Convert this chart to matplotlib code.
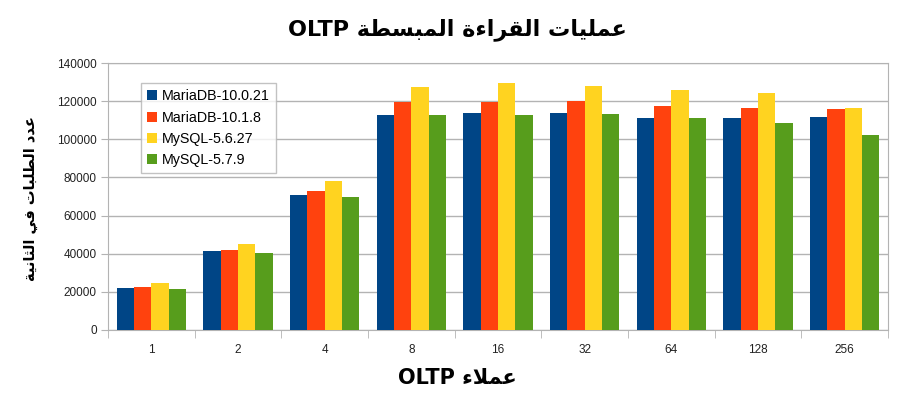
import numpy as np
import matplotlib
matplotlib.use("Agg")
import matplotlib.pyplot as plt

# data
clients = ["1", "2", "4", "8", "16", "32", "64", "128", "256"]
series_names = ["MariaDB-10.0.21", "MariaDB-10.1.8", "MySQL-5.6.27", "MySQL-5.7.9"]
mariadb_10021 = [22100, 41200, 70900, 112500, 114000, 113800, 111400, 111400, 111600]
mariadb_1018 = [22800, 42100, 73000, 119300, 119800, 120000, 117500, 116300, 115900]
mysql_5627 = [24400, 45300, 78100, 127200, 129300, 128000, 125800, 124400, 116600]
mysql_579 = [21400, 40500, 70000, 112600, 112600, 113100, 110900, 108800, 102400]
colors = ["#004586", "#ff420e", "#ffd320", "#579d1c"]

title_text = "عمليات القراءة المبسطة OLTP"
ylabel_text = "عدد الطلبات في الثانية"
xlabel_text = "عملاء OLTP"

# arabic presentation forms: isolated, final, initial, medial
FORMS = {
    'ا': (0xFE8D, 0xFE8E, None, None),
    'ب': (0xFE8F, 0xFE90, 0xFE91, 0xFE92),
    'ة': (0xFE93, 0xFE94, None, None),
    'ت': (0xFE95, 0xFE96, 0xFE97, 0xFE98),
    'ث': (0xFE99, 0xFE9A, 0xFE9B, 0xFE9C),
    'د': (0xFEA9, 0xFEAA, None, None),
    'ر': (0xFEAD, 0xFEAE, None, None),
    'س': (0xFEB1, 0xFEB2, 0xFEB3, 0xFEB4),
    'ط': (0xFEC1, 0xFEC2, 0xFEC3, 0xFEC4),
    'ع': (0xFEC9, 0xFECA, 0xFECB, 0xFECC),
    'ف': (0xFED1, 0xFED2, 0xFED3, 0xFED4),
    'ق': (0xFED5, 0xFED6, 0xFED7, 0xFED8),
    'ل': (0xFEDD, 0xFEDE, 0xFEDF, 0xFEE0),
    'م': (0xFEE1, 0xFEE2, 0xFEE3, 0xFEE4),
    'ن': (0xFEE5, 0xFEE6, 0xFEE7, 0xFEE8),
    'ي': (0xFEF1, 0xFEF2, 0xFEF3, 0xFEF4),
    'ء': (0xFE80, None, None, None),
    'لا': (0xFEFB, 0xFEFC, None, None),
}


def shape_word(w):
    letters = []
    i = 0
    while i < len(w):
        if w[i:i + 2] == 'لا':
            letters.append('لا')
            i += 2
        else:
            letters.append(w[i])
            i += 1
    if not any(ch in FORMS for ch in letters):
        return w
    out = []
    for k, ch in enumerate(letters):
        if ch not in FORMS:
            out.append(ch)
            continue
        iso, fin, ini, med = FORMS[ch]
        prev = letters[k - 1] if k > 0 else None
        nxt = letters[k + 1] if k + 1 < len(letters) else None
        jp = prev in FORMS and FORMS[prev][2] is not None and fin is not None
        jn = nxt in FORMS and FORMS[nxt][1] is not None and ini is not None
        if jp and jn:
            code = med
        elif jp:
            code = fin
        elif jn:
            code = ini
        else:
            code = iso
        out.append(chr(code))
    return ''.join(reversed(out))


def rtl(text):
    # right-to-left line: reverse word order, shape each arabic word
    return ' '.join(shape_word(w) for w in reversed(text.split(' ')))


plt.rcParams['font.family'] = ['Liberation Sans', 'DejaVu Sans']

fig = plt.figure(figsize=(9.07, 3.99), dpi=100)
fig.patch.set_facecolor("white")
ax = fig.add_axes([108 / 907, 1 - 330 / 399, 780 / 907, 267 / 399])

x = np.arange(len(clients))
width = 0.2
all_series = [mariadb_10021, mariadb_1018, mysql_5627, mysql_579]
for i, vals in enumerate(all_series):
    ax.bar(x + (i - 1.5) * width, vals, width, color=colors[i],
           label=series_names[i], zorder=3)

ax.set_xlim(-0.5, len(clients) - 0.5)
ax.set_ylim(0, 140000)
ax.set_yticks(np.arange(0, 140001, 20000))
ax.set_xticks(x)
ax.set_xticklabels(clients, fontsize=8.5, color="#222222")
ax.set_xticks(np.arange(-0.5, len(clients)), minor=True)
ax.tick_params(axis='x', which='major', length=0, pad=10)
ax.tick_params(axis='x', which='minor', length=6, color="#b3b3b3")
ax.tick_params(axis='y', length=5, color="#b3b3b3", labelsize=8.5,
               labelcolor="#222222", pad=3)
ax.grid(axis='y', color="#b3b3b3", linewidth=1, zorder=0)
for s in ax.spines.values():
    s.set_color("#b3b3b3")

leg = ax.legend(loc='upper left', bbox_to_anchor=(0.042, 0.925),
                borderaxespad=0, fancybox=False, edgecolor="#b3b3b3",
                fontsize=10.3, handlelength=0.7, handleheight=0.7,
                handletextpad=0.3, labelspacing=0.5, borderpad=0.45)
leg.get_frame().set_linewidth(1)

fig.text(457 / 907, 1 - 30 / 399, rtl(title_text), ha='center', va='center',
         fontsize=16, fontweight='bold', family='DejaVu Sans')
fig.text(30 / 907, 1 - 199 / 399, rtl(ylabel_text), ha='center', va='center',
         rotation=90, fontsize=10.5, fontweight='bold', family='DejaVu Sans')
fig.text(457 / 907, 1 - 378 / 399, rtl(xlabel_text), ha='center', va='center',
         fontsize=15, fontweight='bold', family='DejaVu Sans')

fig.savefig("out.png", dpi=100)
